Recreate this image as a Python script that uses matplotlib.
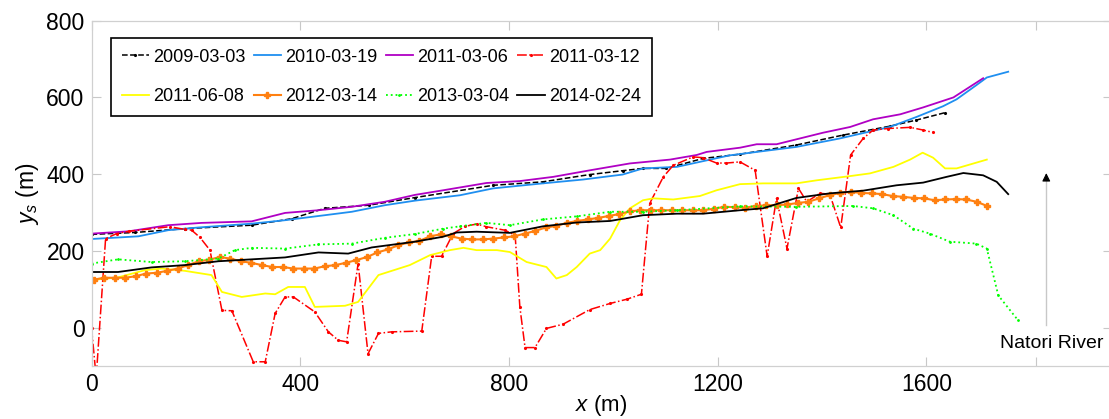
import matplotlib
matplotlib.use('Agg')
import matplotlib.pyplot as plt
import numpy as np

plt.rcParams['font.family'] = ['Liberation Sans', 'DejaVu Sans']
plt.rcParams['mathtext.fontset'] = 'custom'
plt.rcParams['mathtext.it'] = 'Liberation Sans:italic'
plt.rcParams['mathtext.rm'] = 'Liberation Sans'

# --- data ---
x_2009 = [0, 83, 179, 307, 384, 447, 531, 620, 770, 865, 955, 1018, 1057, 1102, 1172, 1243, 1351, 1441, 1530, 1581, 1635]
y_2009 = [243, 248, 258, 267, 284, 311, 319, 339, 371, 380, 399, 409, 415, 415, 441, 452, 476, 502, 525, 541, 560]

x_2010 = [0, 90, 147, 205, 307, 371, 447, 499, 562, 620, 706, 770, 865, 942, 1018, 1057, 1122, 1223, 1351, 1434, 1530, 1581, 1632, 1658, 1696, 1716, 1757]
y_2010 = [231, 238, 254, 261, 271, 280, 293, 302, 319, 331, 345, 363, 376, 386, 399, 415, 419, 449, 471, 493, 523, 549, 577, 595, 632, 652, 667]

x_2011a = [0, 71, 147, 211, 307, 371, 435, 499, 562, 620, 674, 757, 821, 885, 955, 1032, 1109, 1160, 1179, 1243, 1275, 1313, 1402, 1454, 1498, 1550, 1594, 1652, 1709]
y_2011a = [245, 251, 267, 273, 277, 299, 306, 315, 328, 346, 358, 377, 382, 393, 410, 428, 438, 450, 458, 469, 478, 478, 508, 523, 543, 556, 574, 600, 650]

x_2011b = [0, 9, 27, 48, 71, 150, 179, 192, 208, 227, 250, 269, 310, 333, 352, 371, 387, 428, 454, 473,
           489, 511, 530, 550, 575, 633, 652, 671, 693, 716, 738, 757, 792, 812, 821, 831, 850, 872, 904, 955,
           994, 1026, 1054, 1070, 1096, 1115, 1153, 1172, 1198, 1217, 1243, 1272, 1295, 1313, 1333, 1355,
           1371, 1396, 1415, 1436, 1455, 1479, 1498, 1527, 1569, 1594, 1612]
y_2011b = [0, -130, 232, 245, 251, 263, 256, 254, 235, 202, 45, 44, -89, -89, 37, 80, 80, 41, -11, -33,
           -37, 167, -68, -15, -11, -9, 186, 186, 245, 264, 270, 263, 254, 241, 54, -52, -52, -2, 9, 47,
           63, 74, 87, 324, 393, 423, 445, 443, 429, 429, 432, 410, 186, 337, 206, 363,
           328, 350, 348, 261, 450, 493, 515, 519, 522, 515, 509]

x_2011c = [0, 51, 103, 135, 179, 230, 250, 288, 333, 352, 377, 409, 428, 486, 511, 550, 610, 649, 687, 713,
           738, 777, 802, 834, 872, 891, 911, 930, 955, 975, 994, 1013, 1032, 1057, 1077, 1115, 1166, 1198,
           1243, 1287, 1351, 1390, 1454, 1492, 1537, 1569, 1593, 1613, 1636, 1658, 1716]
y_2011c = [124, 131, 150, 154, 148, 137, 93, 80, 89, 87, 106, 106, 54, 57, 67, 137, 163, 189, 202, 208,
           202, 202, 197, 171, 158, 128, 137, 158, 193, 202, 232, 280, 311, 332, 337, 334, 343, 358,
           374, 376, 376, 384, 395, 402, 419, 438, 456, 443, 415, 415, 438]

y_2012 = [125, 130, 130, 130, 134, 141, 143, 148, 154, 163, 173, 177, 184, 180, 173, 169, 163, 158, 158, 154,
          154, 154, 160, 163, 169, 176, 184, 196, 204, 215,
          222, 226, 238, 243, 238, 232, 230, 230, 232, 235, 238, 245, 252, 261, 265, 273, 278, 282, 286, 291,
          296, 303, 306, 306, 306, 306, 306, 306, 306, 310, 315, 314,
          313, 317, 319, 319, 321, 325, 328, 337, 345, 351, 354, 351, 350, 348, 343, 341, 338, 337, 332, 334,
          335, 334, 328, 317]
x_2012 = np.arange(len(y_2012)) * 20.15 + 4

x_2013 = [0, 51, 115, 179, 243, 275, 307, 371, 435, 499, 562, 620, 674, 706, 757, 802, 865, 930, 994, 1057,
          1122, 1243, 1351, 1460, 1498, 1537, 1575, 1607, 1645, 1696, 1716, 1738, 1776]
y_2013 = [167, 178, 171, 173, 180, 202, 208, 206, 217, 219, 234, 244, 258, 264, 273, 267, 282, 290, 302, 302,
          306, 316, 315, 317, 311, 293, 258, 245, 224, 219, 206, 84, 19]

x_2014 = [0, 51, 115, 179, 243, 307, 371, 435, 492, 537, 620, 674, 700, 738, 802, 865, 930, 994, 1057, 1122,
          1172, 1243, 1287, 1351, 1415, 1479, 1543, 1594, 1639, 1671, 1709, 1735, 1757]
y_2014 = [145, 145, 157, 163, 173, 178, 183, 196, 193, 209, 224, 237, 248, 250, 247, 264, 274, 278, 293, 297,
          297, 306, 311, 338, 350, 357, 371, 378, 393, 403, 397, 380, 348]

xticks = [0, 400, 800, 1200, 1600, 1810]
xticklabels = ['0', '400', '800', '1200', '1600', '']
yticks = [0, 200, 400, 600, 800]

fig = plt.figure(figsize=(11.09, 4.19), dpi=100)
ax = fig.add_axes([91.5 / 1109, 1 - 366 / 419, 1020 / 1109, 345.3 / 419])

h1, = ax.plot(x_2009, y_2009, color='black', ls='--', lw=1.1, marker='.', ms=2.5, label='2009-03-03')
h2, = ax.plot(x_2010, y_2010, color='#1f8ff0', lw=1.3, label='2010-03-19')
h3, = ax.plot(x_2011a, y_2011a, color='#b000c4', lw=1.3, label='2011-03-06')
h4, = ax.plot(x_2011b, y_2011b, color='#ff0000', ls='-.', lw=1.1, marker='.', ms=2.5, label='2011-03-12')
h5, = ax.plot(x_2011c, y_2011c, color='#ffff00', lw=1.3, label='2011-06-08')
h6, = ax.plot(x_2012, y_2012, color='#ff8010', lw=1.5, marker='P', ms=4.5, label='2012-03-14')
h7, = ax.plot(x_2013, y_2013, color='#00ff00', ls=':', lw=1.3, marker='.', ms=2, label='2013-03-04')
h8, = ax.plot(x_2014, y_2014, color='black', lw=1.3, label='2014-02-24')

ax.set_xlim(0, 1955)
ax.set_ylim(-100, 800)
ax.set_xticks(xticks)
ax.set_xticklabels(xticklabels)
ax.set_yticks(yticks)
ax.tick_params(direction='in', length=6.7, width=0.8, color='#c8c8c8', top=True, right=True,
               labelsize=16.5, pad=5)
for s in ax.spines.values():
    s.set_color('#d0d0d0')
    s.set_linewidth(0.9)

ax.set_xlabel(r'$x$ (m)', fontsize=16, labelpad=-2)
ax.set_ylabel(r'$y_s$ (m)', fontsize=16.5, labelpad=4)

# river arrow
ax.plot([1830, 1830], [8, 395], color='#c8c8c8', lw=1)
ax.annotate('', xy=(1830, 410), xytext=(1830, 385),
            arrowprops=dict(arrowstyle='-|>', color='black', lw=0.8, mutation_scale=12))
ax.text(1840, -42, 'Natori River', fontsize=14, ha='center', va='center',
        bbox=dict(facecolor='white', edgecolor='none', pad=1))

handles = [h1, h5, h2, h6, h3, h7, h4, h8]
leg = ax.legend(handles=handles, labels=[h.get_label() for h in handles], ncol=4,
                loc='upper left', bbox_to_anchor=(0.0188, 0.950), borderaxespad=0,
                fontsize=13, fancybox=False, framealpha=1, edgecolor='black',
                handlelength=1.5, handletextpad=0.25, columnspacing=0.45,
                labelspacing=1.25, borderpad=0.6)
leg.get_frame().set_linewidth(1.2)

fig.savefig('out.png', dpi=100)
